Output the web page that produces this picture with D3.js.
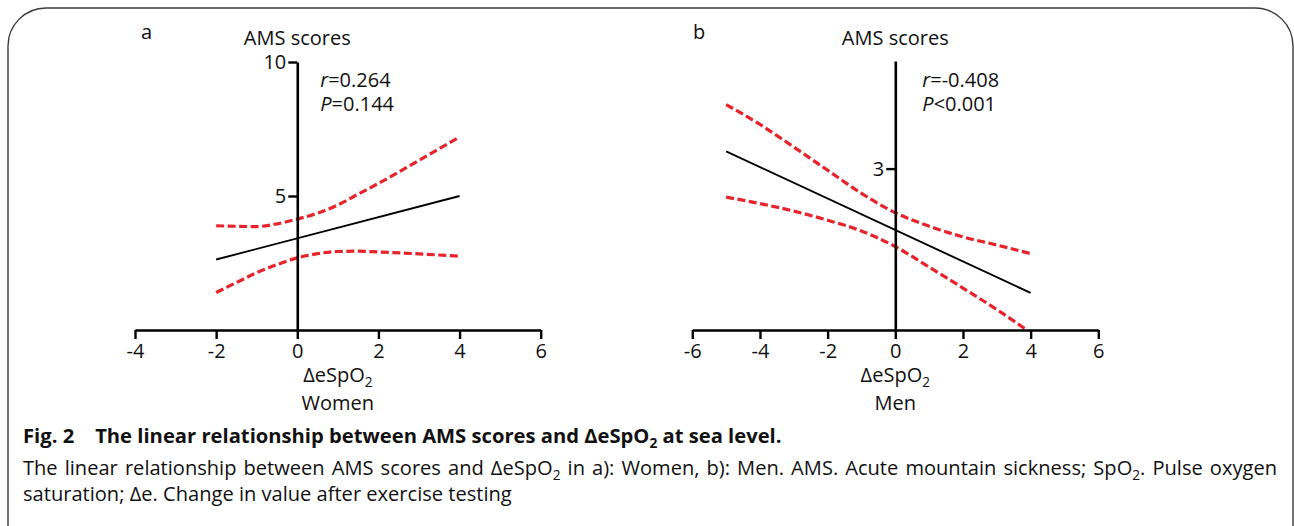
<!DOCTYPE html>
<html><head><meta charset="utf-8">
<script src="https://cdn.jsdelivr.net/npm/d3@7"></script>
<style>
body{margin:0;background:#fff}
svg{display:block}
text{font-family:"Open Sans",sans-serif;fill:#111}
</style>
</head><body>
<svg id="chart" width="1294" height="526"></svg>
<script>
// ---- data ----
const womenXTicks = [-4, -2, 0, 2, 4, 6];
const womenYTicks = [5, 10];
const womenFitX = [-2, 4];
const womenFitY = [2.63, 5.0];
const womenBandX = [-2, -1.5, -1, -0.5, 0, 0.5, 1, 1.5, 2, 3, 4];
const womenUpper = [3.89, 3.87, 3.86, 3.96, 4.14, 4.36, 4.67, 5.07, 5.47, 6.33, 7.2];
const womenLower = [1.40, 1.77, 2.14, 2.44, 2.69, 2.85, 2.93, 2.94, 2.91, 2.84, 2.75];
const womenStats = ["0.264", "=0.144"];

const menXTicks = [-6, -4, -2, 0, 2, 4, 6];
const menYTicks = [3];
const menFitX = [-5, 4];
const menFitY = [3.32, 0.69];
const menBandX = [-5, -4, -3, -2, -1, 0, 1, 2, 3, 4];
const menUpper = [4.19, 3.82, 3.40, 2.97, 2.54, 2.18, 1.93, 1.73, 1.58, 1.42];
const menLower = [2.47, 2.35, 2.21, 2.04, 1.84, 1.55, 1.17, 0.78, 0.38, -0.05];
const menStats = ["-0.408", "<0.001"];

const svg = d3.select("#chart");
const RED = "#e8232b";

// outer rounded frame
svg.append("rect").attr("x", 8).attr("y", 8).attr("width", 1285).attr("height", 570)
  .attr("rx", 38).attr("ry", 38).attr("fill", "none").attr("stroke", "#3a3a3a").attr("stroke-width", 1.4);

function subText(sel, parts) {
  parts.forEach((p, i) => {
    const t = sel.append("tspan").text(p.t);
    if (p.sub) t.attr("font-size", "0.68em").attr("dy", "0.35em");
    else if (i > 0 && parts[i - 1].sub) t.attr("dy", "-0.238em");
    if (p.italic) t.attr("font-style", "italic");
  });
  return sel;
}

function panel(cfg) {
  const x = d3.scaleLinear().domain(cfg.xDomain).range(cfg.xRange);
  const y = d3.scaleLinear().domain(cfg.yDomain).range([330, cfg.yTop]);
  const g = svg.append("g");
  const clipId = "clip" + cfg.letter;
  svg.append("clipPath").attr("id", clipId).append("rect")
    .attr("x", cfg.xRange[0]).attr("y", cfg.yTop - 20)
    .attr("width", cfg.xRange[1] - cfg.xRange[0]).attr("height", 330 - cfg.yTop + 20);

  const band = d3.line().x((d, i) => x(cfg.bandX[i])).y(d => y(d)).curve(d3.curveMonotoneX);
  const fit = d3.line().x((d, i) => x(cfg.fitX[i])).y(d => y(d));
  const plot = g.append("g").attr("clip-path", `url(#${clipId})`);
  [cfg.upper, cfg.lower].forEach(arr => {
    plot.append("path").attr("d", band(arr)).attr("fill", "none")
      .attr("stroke", RED).attr("stroke-width", 3.2).attr("stroke-dasharray", "8,3.5");
  });
  plot.append("path").attr("d", fit(cfg.fitY)).attr("fill", "none")
    .attr("stroke", "#000").attr("stroke-width", 1.9);

  const xAxis = g.append("g").attr("transform", `translate(0,${y(0)})`)
    .call(d3.axisBottom(x).tickValues(cfg.xTicks).tickSize(9).tickPadding(5).tickSizeOuter(0).tickFormat(d => String(d)));
  const yAxis = g.append("g").attr("transform", `translate(${x(0)},0)`)
    .call(d3.axisLeft(y).tickValues(cfg.yTicks).tickSize(9).tickPadding(2).tickSizeOuter(0).tickFormat(d => String(d)));
  [xAxis, yAxis].forEach(a => {
    a.select(".domain").attr("stroke", "#000").attr("stroke-width", 2.6);
    a.selectAll(".tick line").attr("stroke", "#000").attr("stroke-width", 2.4);
    a.selectAll(".tick text").attr("font-size", 20).attr("font-family", "Open Sans").attr("fill", "#111");
  });

  // titles
  g.append("text").attr("x", cfg.letterX).attr("y", 39).attr("font-size", 20).text(cfg.letter);
  g.append("text").attr("x", x(0)).attr("y", 45).attr("text-anchor", "middle").attr("font-size", 20).text("AMS scores");
  const cx = (cfg.xRange[0] + cfg.xRange[1]) / 2;
  subText(g.append("text").attr("x", cx).attr("y", 382).attr("text-anchor", "middle").attr("font-size", 20),
    [{t: "\u0394eSpO"}, {t: "2", sub: true}]);
  g.append("text").attr("x", cx).attr("y", 410).attr("text-anchor", "middle").attr("font-size", 20).text(cfg.group);

  subText(g.append("text").attr("x", x(0) + cfg.statDx).attr("y", 87).attr("font-size", 20),
    [{t: "r", italic: true}, {t: "=" + cfg.stats[0]}]);
  subText(g.append("text").attr("x", x(0) + cfg.statDx).attr("y", 111).attr("font-size", 20),
    [{t: "P", italic: true}, {t: cfg.stats[1]}]);
}

panel({letter: "a", letterX: 141, group: "Women", xDomain: [-4, 6], xRange: [135, 540.7], yDomain: [0, 10], yTop: 62,
  xTicks: womenXTicks, yTicks: womenYTicks, fitX: womenFitX, fitY: womenFitY, bandX: womenBandX,
  upper: womenUpper, lower: womenLower, stats: womenStats, statDx: 23});
panel({letter: "b", letterX: 693, group: "Men", xDomain: [-6, 6], xRange: [692.3, 1098.3], yDomain: [0, 5], yTop: 61,
  xTicks: menXTicks, yTicks: menYTicks, fitX: menFitX, fitY: menFitY, bandX: menBandX,
  upper: menUpper, lower: menLower, stats: menStats, statDx: 27});

// caption
const cap = svg.append("g");
const t1 = subText(cap.append("text").attr("x", 23).attr("y", 443).attr("font-size", 20).attr("font-weight", "bold"),
  [{t: "Fig. 2\u00a0\u00a0\u00a0 The linear relationship between AMS scores and \u0394eSpO"}, {t: "2", sub: true}, {t: " at sea level."}]);
const t3 = cap.append("text").attr("x", 23).attr("y", 501).attr("font-size", 19)
  .text("saturation; \u0394e. Change in value after exercise testing");
const t2 = subText(cap.append("text").attr("x", 23).attr("y", 475).attr("font-size", 19),
  [{t: "The linear relationship between AMS scores and \u0394eSpO"}, {t: "2", sub: true},
   {t: " in a): Women, b): Men. AMS. Acute mountain sickness; SpO"}, {t: "2", sub: true}, {t: ". Pulse oxygen"}]);

function fitWidth(sel, target) {
  const w = sel.node().getComputedTextLength();
  const fs = parseFloat(sel.attr("font-size"));
  sel.attr("font-size", (fs * target / w).toFixed(2));
}
fitWidth(t1, 759);
fitWidth(t3, 489);
t2.attr("font-size", t3.attr("font-size"));
const nat = t2.node().getComputedTextLength();
const spaces = (t2.text().match(/ /g) || []).length;
t2.attr("word-spacing", ((1277 - 23 - nat) / spaces).toFixed(3));
</script>
</body></html>
